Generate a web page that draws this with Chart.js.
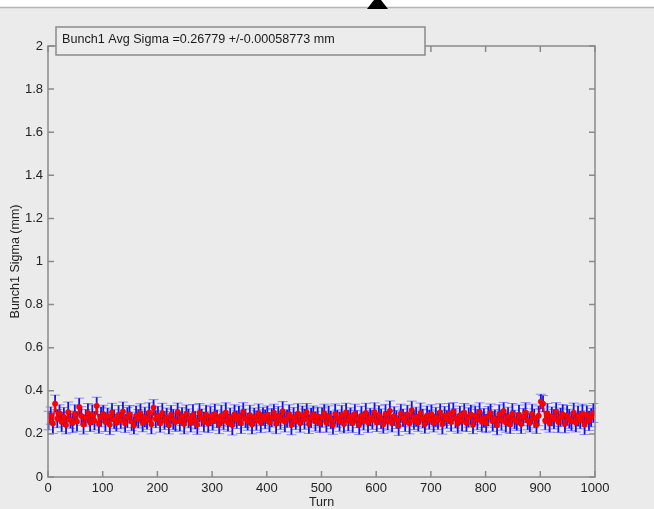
<!DOCTYPE html>
<html lang="en">
<head>
<meta charset="UTF-8">
<title>Bunch1 Sigma</title>
<script src="https://cdn.jsdelivr.net/npm/chart.js@4.4.1/dist/chart.umd.min.js"></script>
<style>
  html, body { margin: 0; padding: 0; background: #ebebeb; }
  #chart { display: block; }
</style>
</head>
<body>
<canvas id="chart" width="654" height="509"></canvas>
<script>
const sigma = [
  0.262,0.285,0.248,0.340,0.271,0.296,0.255,0.279,0.241,0.301,0.266,0.250,0.293,0.258,0.325,0.283,0.244,0.274,0.297,0.253,0.288,0.261,0.330,0.247,0.279,
  0.292,0.256,0.281,0.243,0.299,0.268,0.252,0.287,0.262,0.304,0.249,0.276,0.291,0.258,0.239,0.284,0.270,0.296,0.251,0.278,0.263,0.300,0.245,0.322,0.269,
  0.284,0.249,0.297,0.262,0.276,0.240,0.290,0.267,0.255,0.302,0.258,0.281,0.246,0.294,0.272,0.251,0.288,0.264,0.243,0.298,0.275,0.256,0.289,0.248,0.282,
  0.259,0.293,0.270,0.245,0.286,0.261,0.299,0.252,0.277,0.241,0.291,0.266,0.284,0.250,0.303,0.272,0.257,0.287,0.244,0.279,0.262,0.296,0.253,0.281,0.268,
  0.289,0.254,0.275,0.298,0.247,0.283,0.263,0.305,0.256,0.271,0.292,0.242,0.278,0.260,0.295,0.250,0.286,0.268,0.300,0.246,0.274,0.290,0.258,0.281,0.249,
  0.276,0.296,0.252,0.283,0.265,0.241,0.293,0.271,0.257,0.288,0.246,0.299,0.262,0.280,0.251,0.294,0.269,0.243,0.285,0.260,0.297,0.254,0.278,0.265,0.301,
  0.253,0.287,0.270,0.244,0.292,0.261,0.306,0.249,0.282,0.267,0.239,0.295,0.274,0.256,0.289,0.248,0.310,0.263,0.279,0.252,0.297,0.271,0.245,0.286,0.266,
  0.291,0.250,0.278,0.263,0.300,0.245,0.283,0.268,0.294,0.255,0.304,0.272,0.247,0.287,0.260,0.298,0.251,0.276,0.290,0.242,0.285,0.266,0.302,0.256,0.274,
  0.249,0.282,0.297,0.258,0.271,0.240,0.292,0.264,0.306,0.253,0.280,0.244,0.295,0.267,0.257,0.289,0.246,0.278,0.299,0.262,0.251,0.293,0.272,0.243,0.284,
  0.350,0.340,0.262,0.295,0.249,0.281,0.268,0.303,0.255,0.277,0.291,0.246,0.286,0.270,0.258,0.298,0.252,0.283,0.265,0.294,0.243,0.289,0.261,0.276,0.297
];
// error bar half heights (mm)
const sigmaErr = [
  0.043,0.040,0.046,0.040,0.042,0.039,0.045,0.044,0.041,0.047,0.040,0.044,0.042,0.046,0.041,0.043,0.045,0.039,0.044,0.042,0.047,0.043,0.040,0.044,0.046,
  0.041,0.045,0.039,0.046,0.043,0.044,0.040,0.045,0.038,0.044,0.042,0.047,0.041,0.043,0.040,0.046,0.043,0.044,0.041,0.046,0.042,0.044,0.045,0.037,0.040,
  0.044,0.041,0.045,0.042,0.044,0.040,0.042,0.047,0.043,0.041,0.045,0.042,0.046,0.040,0.044,0.042,0.048,0.041,0.045,0.043,0.040,0.046,0.044,0.042,0.045,
  0.042,0.046,0.041,0.044,0.047,0.042,0.045,0.040,0.043,0.046,0.044,0.041,0.045,0.048,0.042,0.043,0.040,0.046,0.044,0.041,0.045,0.043,0.047,0.042,0.044,
  0.041,0.045,0.043,0.040,0.046,0.044,0.042,0.045,0.047,0.041,0.043,0.046,0.044,0.040,0.045,0.042,0.043,0.047,0.041,0.044,0.046,0.040,0.045,0.043,0.042,
  0.045,0.042,0.044,0.047,0.041,0.043,0.046,0.040,0.045,0.044,0.042,0.043,0.048,0.041,0.045,0.044,0.040,0.046,0.043,0.042,0.045,0.047,0.041,0.044,0.043,
  0.042,0.044,0.046,0.041,0.045,0.043,0.047,0.040,0.044,0.042,0.046,0.043,0.041,0.045,0.044,0.048,0.042,0.043,0.045,0.040,0.046,0.044,0.042,0.043,0.045,
  0.044,0.041,0.045,0.043,0.040,0.046,0.044,0.042,0.047,0.043,0.041,0.045,0.044,0.042,0.046,0.043,0.040,0.045,0.044,0.041,0.043,0.047,0.042,0.045,0.044,
  0.043,0.045,0.042,0.046,0.041,0.044,0.043,0.047,0.040,0.045,0.044,0.042,0.046,0.043,0.041,0.045,0.044,0.040,0.046,0.043,0.042,0.045,0.044,0.041,0.046,
  0.034,0.038,0.043,0.046,0.041,0.044,0.045,0.042,0.048,0.043,0.045,0.041,0.046,0.044,0.042,0.045,0.043,0.047,0.041,0.044,0.046,0.042,0.045,0.043,0.044
];
// turn number of each sample (every 4th turn)
const turns = sigma.map((_, i) => 1 + i * 4);

const legendText = "Bunch1 Avg Sigma =0.26779 +/-0.00058773 mm";
const xLabel = "Turn";
const yLabel = "Bunch1 Sigma (mm)";

const bg = "#ebebeb";
const axisGray = "#8a8a8a";
const font = "'Liberation Sans', Arial, sans-serif";

// background + white strip on top
const backdrop = {
  id: "backdrop",
  beforeDraw(chart) {
    const ctx = chart.ctx;
    ctx.save();
    ctx.fillStyle = bg;
    ctx.fillRect(0, 0, chart.width, chart.height);
    ctx.fillStyle = "#ffffff";
    ctx.fillRect(0, 0, chart.width, 7);
    ctx.strokeStyle = "#b5b5b5";
    ctx.lineWidth = 1.5;
    ctx.beginPath();
    ctx.moveTo(0, 7.5);
    ctx.lineTo(chart.width, 7.5);
    ctx.stroke();
    ctx.restore();
  }
};

// vertical error bars with caps
const errorBars = {
  id: "errorBars",
  beforeDatasetsDraw(chart) {
    const ctx = chart.ctx;
    const xs = chart.scales.x, ys = chart.scales.y;
    const bars = turns.map((t, i) => ({
      px: xs.getPixelForValue(t),
      top: ys.getPixelForValue(sigma[i] + sigmaErr[i]),
      bot: ys.getPixelForValue(sigma[i] - sigmaErr[i])
    }));
    ctx.save();
    // caps first, pale
    ctx.strokeStyle = "rgba(110,110,255,0.75)";
    ctx.lineWidth = 1;
    ctx.beginPath();
    bars.forEach(b => {
      ctx.moveTo(b.px - 5, b.top); ctx.lineTo(b.px + 5, b.top);
      ctx.moveTo(b.px - 5, b.bot); ctx.lineTo(b.px + 5, b.bot);
    });
    ctx.stroke();
    // stems
    ctx.strokeStyle = "#1010f0";
    ctx.lineWidth = 1.8;
    ctx.beginPath();
    bars.forEach(b => {
      ctx.moveTo(b.px, b.top); ctx.lineTo(b.px, b.bot);
    });
    ctx.stroke();
    ctx.restore();
  }
};

// matlab style box with inward ticks
const frame = {
  id: "frame",
  afterDatasetsDraw(chart) {
    const ctx = chart.ctx;
    const a = chart.chartArea;
    const xs = chart.scales.x, ys = chart.scales.y;
    ctx.save();
    ctx.strokeStyle = axisGray;
    ctx.lineWidth = 1.5;
    ctx.strokeRect(a.left, a.top, a.right - a.left, a.bottom - a.top);
    ctx.beginPath();
    xs.ticks.forEach(t => {
      const px = xs.getPixelForValue(t.value);
      ctx.moveTo(px, a.bottom); ctx.lineTo(px, a.bottom - 6);
      ctx.moveTo(px, a.top); ctx.lineTo(px, a.top + 6);
    });
    ys.ticks.forEach(t => {
      const py = ys.getPixelForValue(t.value);
      ctx.moveTo(a.left, py); ctx.lineTo(a.left + 6, py);
      ctx.moveTo(a.right, py); ctx.lineTo(a.right - 6, py);
    });
    ctx.stroke();
    ctx.restore();
  }
};

// legend box and the little marker at the top
const legendBox = {
  id: "legendBox",
  afterDraw(chart) {
    const ctx = chart.ctx;
    ctx.save();
    ctx.fillStyle = "#ececec";
    ctx.fillRect(56, 27, 369, 28);
    ctx.strokeStyle = axisGray;
    ctx.lineWidth = 1.5;
    ctx.strokeRect(56, 27, 369, 28);
    ctx.fillStyle = "#1a1a1a";
    ctx.font = "12.6px " + font;
    ctx.textBaseline = "middle";
    ctx.fillText(legendText, 62, 40);
    ctx.fillStyle = "#000000";
    ctx.beginPath();
    ctx.moveTo(374, 0);
    ctx.lineTo(381, 0);
    ctx.lineTo(388, 9);
    ctx.lineTo(367, 9);
    ctx.closePath();
    ctx.fill();
    ctx.restore();
  }
};

new Chart(document.getElementById("chart"), {
  type: "line",
  data: {
    datasets: [{
      data: turns.map((t, i) => ({ x: t, y: sigma[i] })),
      borderColor: "#ff0000",
      backgroundColor: "#ff0000",
      borderWidth: 1.5,
      pointRadius: 2.7,
      pointBorderWidth: 0.5,
      pointBackgroundColor: "#ff0000",
      pointBorderColor: "#e00000",
      tension: 0
    }]
  },
  options: {
    responsive: false,
    animation: false,
    events: [],
    layout: { padding: { top: 46, right: 59, left: 0, bottom: 0 } },
    plugins: { legend: { display: false }, tooltip: { enabled: false } },
    scales: {
      x: {
        type: "linear",
        min: 0,
        max: 1000,
        ticks: {
          stepSize: 100,
          padding: 4,
          color: "#222",
          font: { family: font, size: 13 },
          maxRotation: 0,
          callback: v => String(v)
        },
        grid: { display: false, drawTicks: false },
        border: { display: false },
        title: {
          display: true,
          text: xLabel,
          color: "#222",
          padding: 0,
          font: { family: font, size: 12.5, lineHeight: 1 }
        },
        afterFit(scale) { scale.height = 32; }
      },
      y: {
        min: 0,
        max: 2,
        ticks: {
          stepSize: 0.2,
          padding: 5,
          color: "#222",
          font: { family: font, size: 13 },
          callback: v => String(Number(v.toFixed(1)))
        },
        grid: { display: false, drawTicks: false },
        border: { display: false },
        title: {
          display: true,
          text: yLabel,
          color: "#222",
          padding: { top: 9, bottom: 0 },
          font: { family: font, size: 12.5, lineHeight: 1 }
        },
        afterFit(scale) { scale.width = 48; }
      }
    }
  },
  plugins: [backdrop, errorBars, frame, legendBox]
});
</script>
</body>
</html>
